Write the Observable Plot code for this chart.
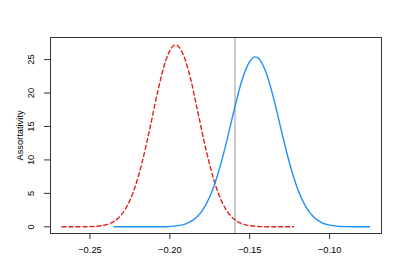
<!DOCTYPE html>
<html>
<head>
<meta charset="utf-8">
<script src="https://cdn.jsdelivr.net/npm/d3@7"></script>
<script src="https://cdn.jsdelivr.net/npm/@observablehq/plot@0.6"></script>
<style>
  html, body { margin: 0; padding: 0; background: #fff; }
  svg { display: block; }
</style>
</head>
<body>
<div id="chart"></div>
<script>
// Red dashed density
const redX = [-0.2675,-0.2625,-0.2575,-0.2525,-0.2475,-0.2425,-0.2375,-0.2325,-0.2275,-0.2225,-0.2175,-0.2125,-0.2075,-0.2025,-0.1975,-0.1964,-0.1925,-0.1875,-0.1825,-0.1775,-0.1725,-0.1675,-0.1625,-0.1575,-0.1525,-0.1475,-0.1425,-0.1375,-0.1325,-0.1275,-0.1225];
const redY = [0,0,0.004,0.016,0.057,0.18,0.50,1.25,2.77,5.44,9.51,14.7,20.3,24.9,27.1,27.2,26.2,22.6,17.2,11.7,7.06,3.78,1.80,0.76,0.29,0.10,0.03,0.01,0,0,0];
// Blue solid density
const blueX = [-0.235,-0.230,-0.225,-0.220,-0.215,-0.210,-0.205,-0.200,-0.195,-0.190,-0.185,-0.180,-0.175,-0.170,-0.165,-0.160,-0.155,-0.150,-0.1465,-0.145,-0.140,-0.135,-0.130,-0.125,-0.120,-0.115,-0.110,-0.105,-0.100,-0.095,-0.090,-0.085,-0.080,-0.075];
const blueY = [0,0,0,0,0.001,0.005,0.017,0.056,0.17,0.45,1.07,2.31,4.48,7.81,12.2,17.2,21.8,24.7,25.4,25.3,23.2,19.2,14.2,9.47,5.67,3.05,1.47,0.64,0.25,0.09,0.03,0.01,0,0];
const observed = -0.1592;
const xTicks = [-0.25, -0.20, -0.15, -0.10];
const yTicks = [0, 5, 10, 15, 20, 25];
const yLabel = "Assortativity";

const red = redX.map((x, i) => ({x, y: redY[i]}));
const blue = blueX.map((x, i) => ({x, y: blueY[i]}));
const font = "Liberation Sans, Arial, Helvetica, sans-serif";

const chart = Plot.plot({
  width: 407,
  height: 271,
  marginLeft: 50,
  marginRight: 26,
  marginTop: 37,
  marginBottom: 38,
  style: {fontFamily: font, fontSize: "9.3px", color: "#000", background: "#fff"},
  x: {domain: [-0.2747, -0.0675]},
  y: {domain: [-1.0, 28.3]},
  marks: [
    Plot.ruleX([observed], {stroke: "#bdbdbd", strokeWidth: 1.5}),
    Plot.line(red, {x: "x", y: "y", stroke: "#e0201b", strokeWidth: 1.4, strokeDasharray: "4,3", curve: "monotone-x"}),
    Plot.line(blue, {x: "x", y: "y", stroke: "#1e90ff", strokeWidth: 1.4, curve: "monotone-x"}),
    Plot.frame({stroke: "#333", strokeWidth: 1}),
    Plot.axisX(xTicks, {tickSize: 6, tickPadding: 7, tickFormat: d3.format(".2f"), stroke: "#333", label: null}),
    Plot.axisY(yTicks, {tickSize: 6, tickFormat: () => "", stroke: "#333", label: null}),
    Plot.text(yTicks, {y: d => d, text: d => String(d), frameAnchor: "left", dx: -19, rotate: -90, textAnchor: "middle", fill: "#000"}),
    Plot.text([yLabel], {frameAnchor: "left", dx: -30, rotate: -90, textAnchor: "middle", fill: "#000"})
  ]
});
document.getElementById("chart").appendChild(chart);
</script>
</body>
</html>
